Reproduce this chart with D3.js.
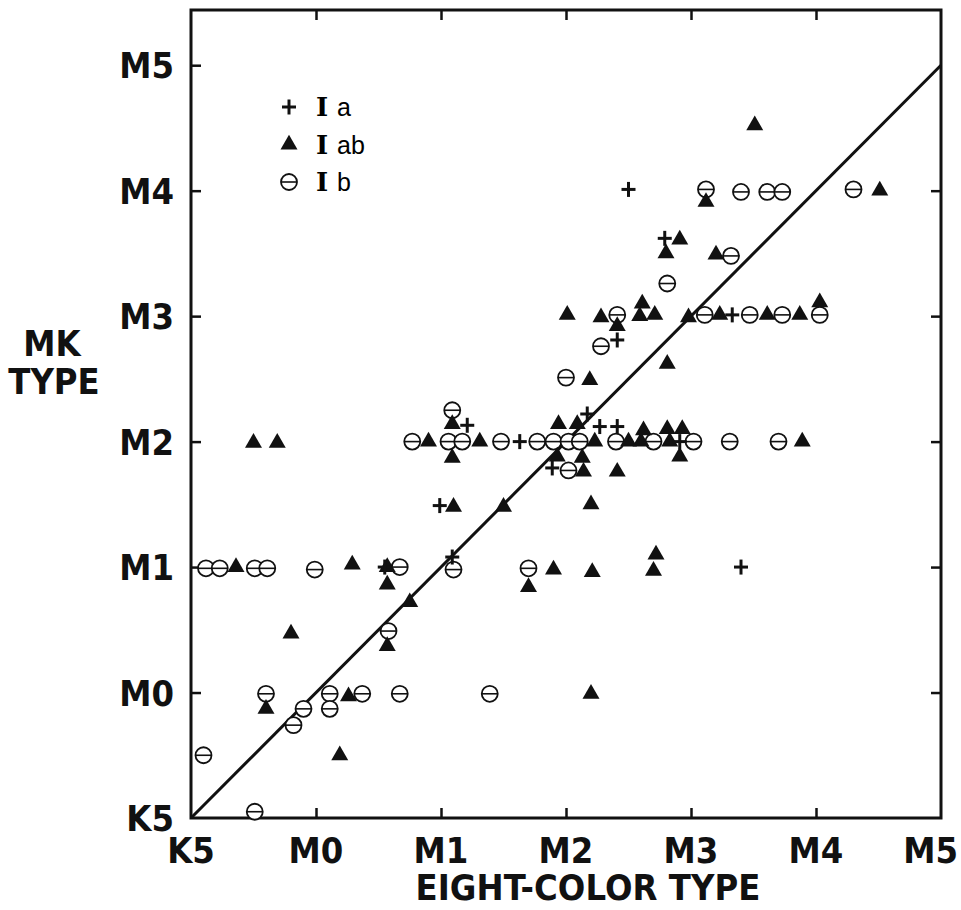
<!DOCTYPE html>
<html>
<head>
<meta charset="utf-8">
<script src="https://cdn.jsdelivr.net/npm/d3@7"></script>
<style>
  body { margin: 0; background: #fff; }
  svg { display: block; }
  .tick-label { font-family: 'DejaVu Sans Condensed', 'DejaVu Sans', sans-serif; font-stretch: condensed; font-weight: bold; fill: #111; }
</style>
</head>
<body>
<svg width="961" height="910"></svg>
<script>
// spectral types, K5 = 0, M0 = 1 ... M5 = 6
var typeLabels = ["K5", "M0", "M1", "M2", "M3", "M4", "M5"];
var typeValues = [0, 1, 2, 3, 4, 5, 6];

// luminosity class Ia  (eight-color type, MK type)
var classIa = [
  [3.50, 5.01], [3.79, 4.62], [3.41, 3.81], [4.33, 4.01], [3.17, 3.22],
  [3.27, 3.12], [3.41, 3.12], [2.21, 3.13], [2.63, 3.00], [2.89, 2.79],
  [1.99, 2.49], [2.09, 2.08], [1.55, 2.00], [4.40, 2.00], [3.91, 3.00]
];

// luminosity class Iab
var classIab = [
  [4.51, 5.52], [3.80, 4.50], [3.91, 4.61], [4.20, 4.49], [5.51, 5.00], [4.12, 4.91],
  [3.01, 4.01], [3.28, 3.99], [3.41, 3.92], [3.61, 4.10], [3.59, 4.00], [3.71, 4.01],
  [3.98, 3.99], [4.23, 4.01], [4.61, 4.01], [4.87, 4.01], [5.03, 4.11],
  [3.81, 3.62], [3.19, 3.49], [2.94, 3.14], [3.09, 3.14], [2.09, 3.14],
  [1.90, 3.00], [2.31, 3.00], [3.23, 3.00], [3.50, 3.00], [3.60, 3.00], [3.83, 3.00],
  [4.89, 3.00], [0.50, 2.99], [0.69, 2.99], [3.62, 3.09], [3.81, 3.10], [3.93, 3.10],
  [2.09, 2.87], [2.93, 2.88], [3.13, 2.87], [3.91, 2.88], [3.14, 2.76], [3.41, 2.76],
  [3.20, 2.50], [2.10, 2.48], [2.50, 2.48],
  [0.36, 2.00], [1.29, 2.02], [1.57, 2.00], [2.90, 1.98], [3.21, 1.96], [3.72, 2.10], [3.70, 1.97],
  [1.57, 1.86], [1.75, 1.72], [2.70, 1.84], [0.80, 1.47], [1.57, 1.37],
  [0.60, 0.87], [1.26, 0.97], [3.20, 0.99], [1.19, 0.50]
];

// luminosity class Ib
var classIb = [
  [4.12, 5.01], [4.40, 4.99], [4.61, 4.99], [4.73, 4.99], [5.30, 5.01],
  [4.32, 4.48], [3.81, 4.26], [3.41, 4.01], [4.11, 4.01], [4.47, 4.01], [4.73, 4.01], [5.03, 4.01],
  [3.28, 3.76], [3.00, 3.51], [2.09, 3.25],
  [1.77, 3.00], [2.06, 3.00], [2.17, 3.00], [2.48, 3.00], [2.77, 3.00], [2.90, 3.00],
  [3.02, 3.00], [3.11, 3.00], [3.40, 3.00], [3.70, 3.00], [4.02, 3.00], [4.31, 3.00], [4.70, 3.00],
  [3.02, 2.77],
  [0.12, 1.99], [0.23, 1.99], [0.51, 1.99], [0.61, 1.99], [0.99, 1.98], [1.67, 2.00], [2.10, 1.98], [2.70, 1.99],
  [1.58, 1.49],
  [0.60, 0.99], [1.11, 0.99], [1.37, 0.99], [1.67, 0.99], [2.39, 0.99], [1.11, 0.87], [0.90, 0.87], [0.82, 0.74],
  [0.10, 0.50], [0.51, 0.05]
];

var legendItems = [
  { shape: "plus", label: "a" },
  { shape: "triangle", label: "ab" },
  { shape: "circle", label: "b" }
];

var svg = d3.select("svg");
// plot frame (window.top is reserved, so no "top" here)
var plotLeft = 191, plotRight = 941, plotTop = 10, plotBottom = 818;

var x = d3.scaleLinear().domain([0, 6]).range([plotLeft, plotRight]);
var y = d3.scaleLinear().domain([0, 6.44]).range([plotBottom, plotTop]);

var g = svg.append("g");

//////////// AXES ////////////

// inward ticks on all four sides, labels only bottom and left
g.append("g")
  .attr("transform", "translate(0," + plotBottom + ")")
  .call(d3.axisTop(x).tickValues(typeValues.slice(1, 6)).tickSize(10).tickFormat(""));
g.append("g")
  .attr("transform", "translate(0," + plotTop + ")")
  .call(d3.axisBottom(x).tickValues(typeValues.slice(1, 6)).tickSize(10).tickFormat(""));
g.append("g")
  .attr("transform", "translate(" + plotLeft + ",0)")
  .call(d3.axisRight(y).tickValues(typeValues.slice(1, 7)).tickSize(10).tickFormat(""));
g.append("g")
  .attr("transform", "translate(" + plotRight + ",0)")
  .call(d3.axisLeft(y).tickValues(typeValues.slice(1, 6)).tickSize(10).tickFormat(""));

g.selectAll(".domain").remove();
g.selectAll(".tick line").attr("stroke", "#111").attr("stroke-width", 2.5);

g.append("rect")
  .attr("x", plotLeft).attr("y", plotTop)
  .attr("width", plotRight - plotLeft).attr("height", plotBottom - plotTop)
  .attr("fill", "none").attr("stroke", "#111").attr("stroke-width", 3);

// tick labels
g.selectAll(".xlab")
  .data(typeValues)
  .enter().append("text")
  .attr("class", "tick-label")
  .attr("x", function(d, i) { return i == 6 ? 958 : x(d); })
  .attr("y", 863)
  .attr("text-anchor", function(d, i) { return i == 6 ? "end" : "middle"; })
  .style("font-size", "36px")
  .text(function(d, i) { return typeLabels[i]; });

g.selectAll(".ylab")
  .data(typeValues)
  .enter().append("text")
  .attr("class", "tick-label")
  .attr("x", 174)
  .attr("y", function(d) { return y(d) + 13; })
  .attr("text-anchor", "end")
  .style("font-size", "36px")
  .text(function(d, i) { return typeLabels[i]; });

// axis titles
g.append("text")
  .attr("class", "tick-label")
  .attr("x", 588).attr("y", 900)
  .attr("text-anchor", "middle")
  .attr("textLength", 345)
  .style("font-size", "36px")
  .text("EIGHT-COLOR TYPE");

g.append("text")
  .attr("class", "tick-label")
  .attr("x", 52).attr("y", 356)
  .attr("text-anchor", "middle")
  .style("font-size", "36px")
  .text("MK");
g.append("text")
  .attr("class", "tick-label")
  .attr("x", 54).attr("y", 394)
  .attr("text-anchor", "middle")
  .style("font-size", "36px")
  .text("TYPE");

//////////// ONE-TO-ONE LINE ////////////

g.append("line")
  .attr("x1", x(0)).attr("y1", y(0))
  .attr("x2", x(6)).attr("y2", y(6))
  .attr("stroke", "#111").attr("stroke-width", 3);

//////////// MARKERS ////////////

var triPath = d3.symbol().type(d3.symbolTriangle).size(125)();

function drawMarker(sel, shape) {
  if (shape == "triangle") {
    sel.append("path").attr("d", triPath).attr("fill", "#111");
  } else if (shape == "circle") {
    sel.append("circle").attr("r", 8).attr("fill", "#fff")
      .attr("stroke", "#111").attr("stroke-width", 1.8);
    sel.append("line").attr("x1", -8).attr("x2", 8)
      .attr("stroke", "#111").attr("stroke-width", 1.6);
  } else {
    sel.append("line").attr("x1", -7).attr("x2", 7)
      .attr("stroke", "#111").attr("stroke-width", 3);
    sel.append("line").attr("y1", -7.5).attr("y2", 7.5)
      .attr("stroke", "#111").attr("stroke-width", 3);
  }
}

function plotSeries(data, shape) {
  g.append("g").selectAll("g")
    .data(data)
    .enter().append("g")
    .attr("transform", function(d) { return "translate(" + x(d[0]) + "," + y(d[1]) + ")"; })
    .each(function() { drawMarker(d3.select(this), shape); });
}

plotSeries(classIb, "circle");
plotSeries(classIab, "triangle");
plotSeries(classIa, "plus");

//////////// LEGEND ////////////

var legend = g.append("g").selectAll("g")
  .data(legendItems)
  .enter().append("g")
  .attr("transform", function(d, i) { return "translate(289," + (107 + i * 37.5) + ")"; });

legend.each(function(d) { drawMarker(d3.select(this), d.shape); });

legend.append("text")
  .attr("x", 27).attr("y", 9)
  .style("font-family", "'DejaVu Serif', serif")
  .style("font-weight", "bold")
  .style("font-size", "26px")
  .text("I");

legend.append("text")
  .attr("x", 48).attr("y", 9)
  .style("font-family", "'Liberation Sans', Arial, sans-serif")
  .style("font-size", "25px")
  .text(function(d) { return d.label; });
</script>
</body>
</html>
